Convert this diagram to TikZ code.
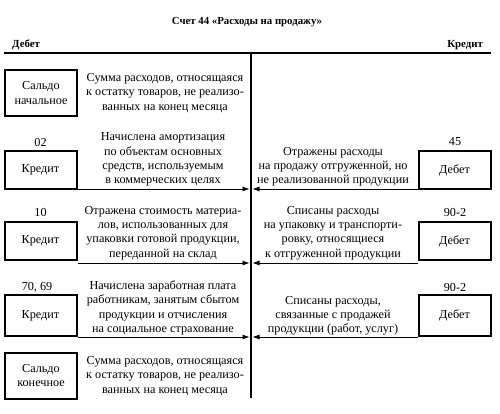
\documentclass[tikz,border=0pt]{standalone}
\usepackage{fontspec}
\setmainfont{Liberation Serif}
\usetikzlibrary{arrows.meta}

\begin{document}
\begin{tikzpicture}[x=1pt,y=-1pt,font=\fontsize{12.2}{14.2}\selectfont,
  acc/.style={draw,line width=2pt,minimum width=72pt,inner sep=0pt,align=center},
  note/.style={align=center,inner sep=0pt},
  head/.style={font=\fontsize{10.8}{13}\selectfont\bfseries,inner sep=0pt},
  post/.style={-{Latex[length=7pt,width=5pt]},line width=0.7pt}]
  \useasboundingbox (0,0) rectangle (500,413);
  % heading and axis of the T-account
  \node[head] (title) at (247,22) {Счет 44 «Расходы на продажу»};
  \node[head,anchor=west] (deb) at (12,45) {Дебет};
  \node[head,anchor=east] (kred) at (483,45) {Кредит};
  \coordinate (top) at (251,53);
  \coordinate (bot) at (251,398);
  \draw[line width=2pt] (4,53) -- (491,53);
  \draw[line width=2pt] (top) -- (bot);
  \foreach \yy/\nm in {189/1,263/2,337/3}{
    \coordinate (inL\nm) at (249.5,\yy);
    \coordinate (inR\nm) at (252.5,\yy);
  }
  % opening balance
  \node[acc,minimum height=46pt] (sn) at (41,93) {Сальдо\\начальное};
  \node[note] (snt) at (165,93) {Сумма расходов, относящаяся\\к остатку товаров, не реализо-\\ванных на конец месяца};
  % debit entries
  \node[acc,minimum height=38pt] (kr1) at (40.5,170) {Кредит};
  \node (n02) at (40.5,142) {02};
  \node[note] (t1) at (163,159.5) {Начислена амортизация\\по объектам основных\\средств, используемым\\в коммерческих целях};
  \draw[post] (kr1.east |- inL1) -- (inL1);
  \node[acc,minimum height=38pt] (kr2) at (40.5,241) {Кредит};
  \node (n10) at (40.5,212) {10};
  \node[note] (t2) at (163,233) {Отражена стоимость материа-\\лов, использованных для\\упаковки готовой продукции,\\переданной на склад};
  \draw[post] (kr2.east |- inL2) -- (inL2);
  \node[acc,minimum height=41pt] (kr3) at (40.5,315.5) {Кредит};
  \node (n70) at (37,287) {70, 69};
  \node[note] (t3) at (163,308) {Начислена заработная плата\\работникам, занятым сбытом\\продукции и отчисления\\на социальное страхование};
  \draw[post] (kr3.east |- inL3) -- (inL3);
  % credit entries
  \node[acc,minimum height=38pt] (db1) at (454.5,170) {Дебет};
  \node (n45) at (455,142) {45};
  \node[note] (s1) at (333,167) {Отражены расходы\\на продажу отгруженной, но\\не реализованной продукции};
  \draw[post] (db1.west |- inR1) -- (inR1);
  \node[acc,minimum height=38pt] (db2) at (454.5,241) {Дебет};
  \node (n902a) at (455,212) {90-2};
  \node[note] (s2) at (333,233) {Списаны расходы\\на упаковку и транспорти-\\ровку, относящиеся\\к отгруженной продукции};
  \draw[post] (db2.west |- inR2) -- (inR2);
  \node[acc,minimum height=41pt] (db3) at (454.5,315.5) {Дебет};
  \node (n902b) at (455,287) {90-2};
  \node[note] (s3) at (333,315.5) {Списаны расходы,\\связанные с продажей\\продукции (работ, услуг)};
  \draw[post] (db3.west |- inR3) -- (inR3);
  % closing balance
  \node[acc,minimum height=46pt] (sk) at (41,375.5) {Сальдо\\конечное};
  \node[note] (skt) at (165,376) {Сумма расходов, относящаяся\\к остатку товаров, не реализо-\\ванных на конец месяца};
\end{tikzpicture}
\end{document}
